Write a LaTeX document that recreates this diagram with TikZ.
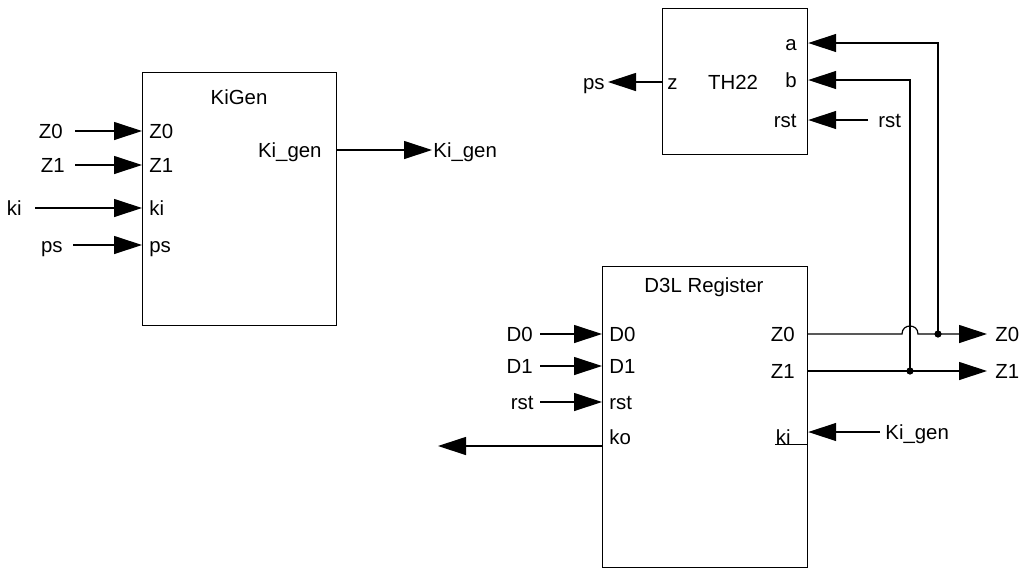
\documentclass[tikz,border=0pt]{standalone}
\usepackage{fontspec}
\setmainfont{Liberation Sans}
\usetikzlibrary{arrows.meta,positioning}
\tikzset{
  blk/.style={draw,line width=0.6pt,anchor=north west,inner sep=0pt},
  lbl/.style={inner sep=0pt,text height=7.4pt,text depth=0pt,font=\fontsize{10.2}{12}\selectfont},
  wire/.style={line width=0.6pt},
  inarr/.style={wire,-{Triangle[length=14pt,width=9pt]}},
  jdot/.style={circle,fill,inner sep=0pt,minimum size=3.6pt},
}
\begin{document}
\begin{tikzpicture}[x=0.5pt,y=-0.5pt]
\useasboundingbox (0,0) rectangle (1024,574);
% blocks
\node[blk,minimum width=97pt,minimum height=126.5pt] (kigen) at (142,72) {};
\node[blk,minimum width=72.5pt,minimum height=73pt] (th) at (662,8) {};
\node[blk,minimum width=102.5pt,minimum height=150.5pt] (reg) at (602,266) {};
\node[lbl] (kigentitle) at (239,97) {KiGen};
\node[lbl] (thtitle) at (733,82) {TH22};
\node[lbl] (regtitle) at (704,285) {D3L Register};
% KiGen pins
\node[lbl,anchor=west] (kz0) at (149,131) {Z0};
\node[lbl,anchor=west] (kz1) at (149,165) {Z1};
\node[lbl,anchor=west] (kki) at (149,208) {ki};
\node[lbl,anchor=west] (kps) at (149,245) {ps};
\node[lbl,anchor=east] (kkigen) at (322,150) {Ki\_gen};
\node[lbl,anchor=east,inner xsep=6pt] (xz0) at (75,131) {Z0};
\node[lbl,anchor=east,inner xsep=5pt] (xz1) at (75,165) {Z1};
\node[lbl,anchor=east,inner xsep=6.5pt] (xki) at (35,208) {ki};
\node[lbl,anchor=east,inner xsep=5pt] (xps) at (73,245) {ps};
\node[lbl,anchor=west,inner xsep=0.5pt] (xkigen) at (432,150) {Ki\_gen};
\draw[inarr] (xz0) -- (kigen.west |- kz0);
\draw[inarr] (xz1) -- (kigen.west |- kz1);
\draw[inarr] (xki) -- (kigen.west |- kki);
\draw[inarr] (xps) -- (kigen.west |- kps);
\draw[inarr] (kigen.east |- kkigen) -- (xkigen);
% TH22 pins
\node[lbl,anchor=west] (tz) at (667,82) {z};
\node[lbl,anchor=east] (ta) at (797,43) {a};
\node[lbl,anchor=east] (tb) at (797,80) {b};
\node[lbl,anchor=east] (trst) at (797,120) {rst};
\node[lbl,anchor=east,inner xsep=1.5pt] (tps) at (608,82) {ps};
\node[lbl,anchor=west,inner xsep=5pt] (xtrst) at (868,120) {rst};
\draw[inarr] (th.west |- tz) -- (tps);
\draw[inarr] (xtrst) -- (th.east |- trst);
% D3L Register pins
\node[lbl,anchor=west] (rd0) at (609,334) {D0};
\node[lbl,anchor=west] (rd1) at (609,366) {D1};
\node[lbl,anchor=west] (rrst) at (609,402) {rst};
\node[lbl,anchor=west] (rko) at (609,437) {ko};
\node[lbl,anchor=east] (rz0) at (795,334) {Z0};
\node[lbl,anchor=east] (rz1) at (795,371) {Z1};
\node[lbl,anchor=east] (rki) at (791,437) {ki};
\node[lbl,anchor=east,inner xsep=3.5pt] (xd0) at (540,334) {D0};
\node[lbl,anchor=east,inner xsep=3.5pt] (xd1) at (540,366) {D1};
\node[lbl,anchor=east,inner xsep=3pt] (xrst) at (540,402) {rst};
\node[lbl,anchor=west,inner xsep=4pt] (xoz0) at (987,334) {Z0};
\node[lbl,anchor=west,inner xsep=4pt] (xoz1) at (987,371) {Z1};
\node[lbl,anchor=west,inner xsep=2.5pt] (xrki) at (880,432) {Ki\_gen};
\coordinate (koend) at (438,446);
\draw[inarr] (xd0) -- (reg.west |- rd0);
\draw[inarr] (xd1) -- (reg.west |- rd1);
\draw[inarr] (xrst) -- (reg.west |- rrst);
\draw[inarr] (reg.west |- koend) -- (koend);
\draw[inarr] (xrki) -- (reg.east |- xrki);
\draw[wire] (rki.south west) -- (reg.east |- rki.south);
% outputs with jump and feedback to TH22
\node[jdot] (jz0) at (938,334) {};
\node[jdot] (jz1) at (910,371) {};
\coordinate (hopa) at (902,334);
\coordinate (hopb) at (918,334);
\draw[inarr] (reg.east |- rz0) -- (hopa) .. controls +(0,-10.7) and +(0,-10.7) .. (hopb) -- (xoz0);
\draw[inarr] (reg.east |- rz1) -- (xoz1);
\draw[inarr] (jz0.center) |- (th.east |- ta);
\draw[inarr] (jz1.center) |- (th.east |- tb);
\end{tikzpicture}
\end{document}
